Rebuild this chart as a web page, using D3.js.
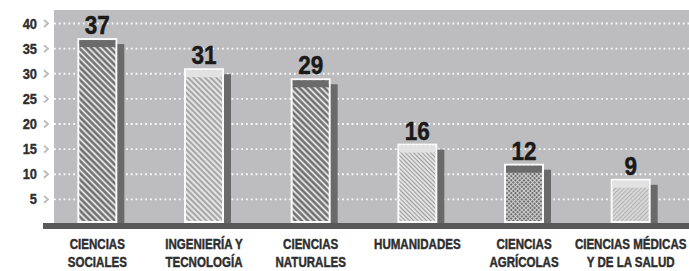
<!DOCTYPE html>
<html>
<head>
<meta charset="utf-8">
<script src="https://cdn.jsdelivr.net/npm/d3@7"></script>
<style>
  body { margin: 0; background: #fff; }
  svg text { font-family: "Liberation Sans", Arial, sans-serif; font-weight: bold; }
</style>
</head>
<body>
<svg id="chart" width="689" height="271"></svg>
<script>
var width = 689, height = 271;

// data
var categories = ["CIENCIAS SOCIALES", "INGENIERÍA Y TECNOLOGÍA", "CIENCIAS NATURALES",
                  "HUMANIDADES", "CIENCIAS AGRÍCOLAS", "CIENCIAS MÉDICAS Y DE LA SALUD"];
var labelLines = [["CIENCIAS", "SOCIALES"], ["INGENIERÍA Y", "TECNOLOGÍA"], ["CIENCIAS", "NATURALES"],
                  ["HUMANIDADES"], ["CIENCIAS", "AGRÍCOLAS"], ["CIENCIAS MÉDICAS", "Y DE LA SALUD"]];
var values = [37, 31, 29, 16, 12, 9];
var yTicks = [5, 10, 15, 20, 25, 30, 35, 40];

// look of each bar (band on top + hatch)
var looks = [
  {band: "#6b6b6b", bg: "#6e6e6e", line: "#f4f4f4", gap: 4.4, w: 1.7, rot: -45},
  {band: "#e2e2e2", bg: "#e4e4e4", line: "#8c8c8c", gap: 4,   w: 1.4, rot: -45},
  {band: "#6b6b6b", bg: "#6e6e6e", line: "#f4f4f4", gap: 4.4, w: 1.7, rot: -45},
  {band: "#e2e2e2", bg: "#e6e6e6", line: "#9a9a9a", gap: 3,   w: 1.1, rot: -45},
  {band: "#6b6b6b", bg: "#707070", line: "#cfcfcf", gap: 3,   w: 1,   rot: -45, cross: true},
  {band: "#e2e2e2", bg: "#dadada", line: "#b4b4b4", gap: 3,   w: 1.2, rot: 45}
];

var plot = {left: 54, top: 10, right: 689, bottom: 223};
var narrow = 0.77;   // the original uses a condensed face

var svg = d3.select("#chart");

var x = d3.scaleBand().domain(categories).range([44, 684]);
var y = d3.scaleLinear().domain([0, 40]).range([224, 23]);
var barW = 40;
function cx(i) { return x(categories[i]) + x.bandwidth() / 2; }

/* ---------- patterns ---------- */
var defs = svg.append("defs");
looks.forEach(function(l, i) {
  var p = defs.append("pattern")
      .attr("id", "hatch" + i)
      .attr("patternUnits", "userSpaceOnUse")
      .attr("width", l.gap).attr("height", l.gap)
      .attr("patternTransform", "rotate(" + l.rot + ")");
  p.append("rect").attr("width", l.gap).attr("height", l.gap).attr("fill", l.bg);
  p.append("line").attr("x1", l.gap / 2).attr("x2", l.gap / 2).attr("y1", 0).attr("y2", l.gap)
      .attr("stroke", l.line).attr("stroke-width", l.w);
  if (l.cross)
    p.append("line").attr("y1", l.gap / 2).attr("y2", l.gap / 2).attr("x1", 0).attr("x2", l.gap)
        .attr("stroke", l.line).attr("stroke-width", l.w);
});

/* ---------- background ---------- */
svg.append("rect")
    .attr("x", plot.left).attr("y", plot.top)
    .attr("width", plot.right - plot.left).attr("height", plot.bottom - plot.top)
    .attr("fill", "#bdbdbf");

// grid lines (dotted)
svg.append("g")
    .attr("transform", "translate(" + plot.left + ",0)")
    .call(d3.axisLeft(y).tickValues(yTicks).tickSize(-(plot.right - plot.left)).tickFormat(""))
    .call(function(g) {
      g.select(".domain").remove();
      g.selectAll(".tick line")
        .attr("stroke", "#fafafa").attr("stroke-width", 1.8)
        .attr("stroke-dasharray", "1.8,3");
    });

// tick labels + small chevrons
var yAxis = svg.append("g")
    .attr("transform", "translate(37,0)")
    .call(d3.axisLeft(y).tickValues(yTicks).tickSize(0).tickPadding(0))
    .call(function(g) {
      g.select(".domain").remove();
      g.selectAll(".tick text")
        .attr("x", 0)
        .attr("transform", "scale(0.92,1)")
        .attr("fill", "#2e2e2e").attr("stroke", "#2e2e2e").attr("stroke-width", 0.35)
        .attr("font-size", 14).attr("dy", "0.36em");
    });
yAxis.selectAll(".tick").append("path")
    .attr("d", "M7,-3.5 L11,0 L7,3.5")
    .attr("fill", "none").attr("stroke", "#b9b9b9").attr("stroke-width", 1.8);

/* ---------- bars ---------- */
var bars = svg.append("g").selectAll("g.bar")
    .data(values)
    .join("g")
    .attr("class", "bar");

// shadow
bars.append("rect")
    .attr("x", function(d, i) { return cx(i) - barW / 2 + 7; })
    .attr("y", function(d) { return y(d) + 6; })
    .attr("width", barW)
    .attr("height", function(d) { return 229 - (y(d) + 6); })
    .attr("fill", "#6a6a6a");

// baseline band
svg.append("rect")
    .attr("x", 43).attr("y", 223)
    .attr("width", 689 - 43).attr("height", 6)
    .attr("fill", "#595959");
// the shadow part over the baseline, a bit darker
bars.append("rect")
    .attr("x", function(d, i) { return cx(i) - barW / 2 + 7; })
    .attr("y", 223)
    .attr("width", barW)
    .attr("height", 6)
    .attr("fill", "#4a4a4a");

// white frame
bars.append("rect")
    .attr("x", function(d, i) { return cx(i) - barW / 2; })
    .attr("y", function(d) { return y(d); })
    .attr("width", barW)
    .attr("height", function(d) { return 223 - y(d); })
    .attr("fill", "#fafafa");

// hatch
bars.append("rect")
    .attr("x", function(d, i) { return cx(i) - barW / 2 + 2; })
    .attr("y", function(d) { return y(d) + 2; })
    .attr("width", barW - 4)
    .attr("height", function(d) { return 223 - y(d) - 4; })
    .attr("fill", function(d, i) { return "url(#hatch" + i + ")"; });

// solid band on top
bars.append("rect")
    .attr("x", function(d, i) { return cx(i) - barW / 2 + 2; })
    .attr("y", function(d) { return y(d) + 2; })
    .attr("width", barW - 4)
    .attr("height", 7)
    .attr("fill", function(d, i) { return looks[i].band; });

// value labels
bars.append("text")
    .attr("transform", function(d, i) { return "translate(" + cx(i) + "," + (y(d) - 4) + ") scale(0.9,1)"; })
    .attr("text-anchor", "middle")
    .attr("font-size", 25)
    .attr("fill", "#1a1a1a").attr("stroke", "#1a1a1a").attr("stroke-width", 0.5)
    .text(function(d) { return d; });

/* ---------- category labels ---------- */
var cat = svg.append("g").selectAll("text")
    .data(labelLines)
    .join("text")
    .attr("transform", function(d, i) { return "translate(" + cx(i) + ",249) scale(" + narrow + ",1)"; })
    .attr("text-anchor", "middle")
    .attr("font-size", 15)
    .attr("fill", "#2e2e2e").attr("stroke", "#2e2e2e").attr("stroke-width", 0.45);
cat.selectAll("tspan")
    .data(function(d) { return d; })
    .join("tspan")
    .attr("x", 0)
    .attr("dy", function(d, j) { return j ? 18 : 0; })
    .text(function(d) { return d; });
</script>
</body>
</html>
